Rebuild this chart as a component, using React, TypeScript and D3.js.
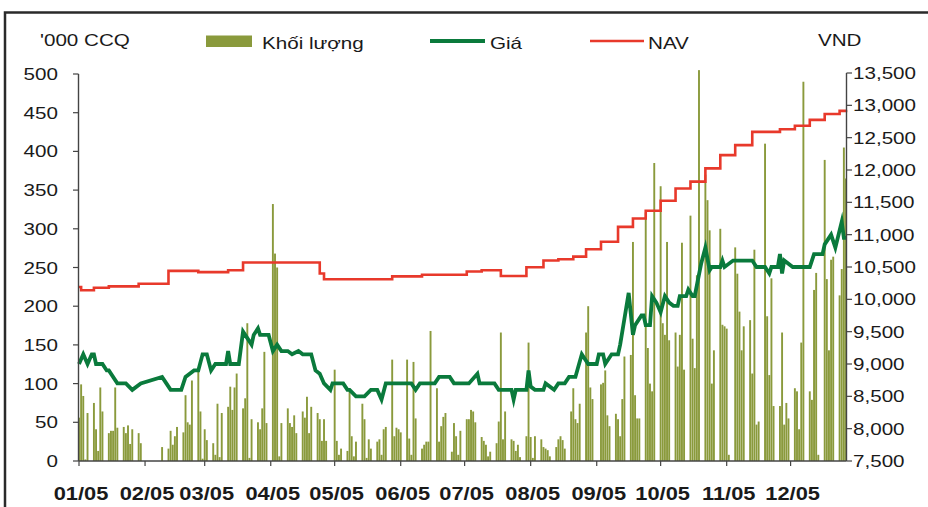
import React from "react";
import * as d3 from "d3";

// month tick labels (axis starts on the first trading day, 3 Jan 2005)
const monthLabels = ["01/05", "02/05", "03/05", "04/05", "05/05", "06/05", "07/05", "08/05", "09/05", "10/05", "11/05", "12/05"];
const leftTicks = [0, 50, 100, 150, 200, 250, 300, 350, 400, 450, 500];
const rightTicks = [7500, 8000, 8500, 9000, 9500, 10000, 10500, 11000, 11500, 12000, 12500, 13000, 13500];

// days the market was closed (Tet, 30/4-1/5, 2/9)
const holidays = ["2005-02-02", "2005-02-03", "2005-02-04", "2005-02-07", "2005-02-08", "2005-02-09", "2005-02-10", "2005-05-02", "2005-09-02"];

// Khối lượng ('000 CCQ), one value per trading day, by month
const volJan = [56, 99, 84, 2, 62, 75, 41, 13, 95, 64, 36, 39, 39, 95, 43, 44, 36, 46, 22, 41, 36];
const volFeb = [23, 18, 16, 39, 21, 32, 44, 37, 85, 50, 47, 104, 117];
const volMar = [64, 3, 41, 27, 23, 8, 74, 5, 62, 70, 96, 66, 95, 113, 68, 81, 178, 4, 54, 50, 41, 68, 141];
const volApr = [49, 332, 268, 250, 6, 49, 68, 49, 44, 59, 36, 64, 56, 83, 36, 70, 62, 54, 26, 54, 26];
const volMay = [118, 26, 8, 16, 13, 91, 32, 6, 25, 74, 54, 4, 28, 16, 25, 28, 8, 41, 44, 131, 32];
const volJun = [43, 41, 37, 131, 29, 8, 128, 55, 16, 21, 25, 25, 168, 94, 25, 45, 57, 62, 12, 49, 32, 8];
const volJul = [39, 54, 54, 66, 64, 50, 31, 26, 21, 6, 12, 23, 51, 166, 28, 64, 28, 26, 13, 21, 5];
const volAug = [32, 153, 31, 4, 32, 28, 18, 16, 14, 6, 18, 28, 32, 27, 16, 64, 94, 54, 49, 74, 166, 200, 95];
const volSep = [80, 99, 101, 117, 59, 45, 61, 54, 32, 80, 135, 137, 283, 85, 55, 55, 321, 146, 100, 90, 385];
const volOct = [355, 178, 163, 283, 156, 166, 122, 163, 282, 118, 317, 158, 120, 240, 505, 370, 337, 298, 100, 143, 300];
const volNov = [176, 174, 171, 8, 276, 242, 193, 143, 174, 182, 113, 273, 47, 51, 410, 187, 111, 236, 71, 71, 166, 47];
const volDec = [75, 55, 94, 90, 41, 153, 490, 90, 79, 221, 243, 8, 389, 235, 143, 260, 264, 214, 248, 405, 365];

// Giá (VND) - turning points of the price line
const priceDates = [
  "01-03", "01-05", "01-07", "01-09", "01-10", "01-11", "01-14", "01-16", "01-17", "01-21", "01-25", "01-28",
  "02-01", "02-11", "02-13", "02-15", "02-20", "02-22", "02-26", "02-28",
  "03-02", "03-04", "03-06", "03-08", "03-13", "03-14", "03-15", "03-19", "03-21", "03-23", "03-25", "03-26", "03-28", "03-29",
  "04-02", "04-04", "04-06", "04-08", "04-11", "04-13", "04-16", "04-18", "04-22", "04-24", "04-26", "04-28",
  "05-01", "05-02", "05-07", "05-09", "05-10", "05-13", "05-17", "05-20", "05-23", "05-25", "05-27",
  "06-08", "06-10", "06-12", "06-19", "06-21", "06-26", "06-28",
  "07-05", "07-09", "07-10", "07-17", "07-19", "07-25", "07-26", "07-27",
  "08-01", "08-02", "08-03", "08-05", "08-09", "08-10", "08-14", "08-16", "08-19", "08-21", "08-24", "08-27", "08-30",
  "09-03", "09-04", "09-06", "09-07", "09-10", "09-13", "09-14", "09-16", "09-18", "09-20", "09-21", "09-24", "09-25", "09-26", "09-28", "09-29",
  "10-01", "10-03", "10-05", "10-07", "10-09", "10-11", "10-12", "10-15", "10-16", "10-18", "10-19", "10-22", "10-24", "10-26", "10-27", "10-31",
  "11-01", "11-02", "11-06", "11-15", "11-17", "11-21", "11-23", "11-24", "11-27", "11-28", "11-29", "11-30",
  "12-04", "12-12", "12-14", "12-18", "12-19", "12-22", "12-24", "12-27", "12-28", "12-29",
];
const priceValues = [
  9000, 9150, 9000, 9150, 9150, 9000, 9000, 8900, 8900, 8700, 8700, 8600,
  8700, 8800, 8700, 8600, 8600, 8800, 8900, 8900,
  9150, 9150, 8900, 9000, 9000, 9200, 9000, 9000, 9500, 9400, 9300, 9450, 9550, 9450,
  9450, 9200, 9300, 9200, 9200, 9150, 9200, 9150, 9150, 8900, 8850, 8700,
  8600, 8700, 8700, 8600, 8600, 8500, 8500, 8600, 8600, 8450, 8700,
  8700, 8600, 8700, 8700, 8800, 8800, 8700,
  8700, 8850, 8700, 8700, 8600, 8600, 8450, 8600,
  8600, 8900, 8650, 8600, 8600, 8700, 8600, 8700, 8700, 8800, 8800, 9150, 9000,
  9000, 9150, 9150, 9000, 9150, 9150, 9300, 9700, 10100, 9450, 9600, 9750, 9750, 9600, 9600, 10050,
  9950, 9800, 10050, 9950, 9900, 9900, 10050, 10050, 10150, 10050, 10050, 10550, 10800, 10450, 10500, 10500,
  10600, 10500, 10600, 10600, 10500, 10500, 10400, 10500, 10500, 10700, 10400, 10600,
  10500, 10500, 10700, 10700, 10850, 11000, 10800, 11200, 10950, 10950,
];

// NAV (VND) - weekly values
const navDates = [
  "01-03", "01-04", "01-10", "01-17", "01-31", "02-14", "02-28", "03-14", "03-21", "04-26", "04-28",
  "05-30", "06-13", "07-04", "07-11", "07-20", "08-01", "08-09", "08-16", "08-23", "08-29",
  "09-05", "09-13", "09-20", "09-26", "10-03", "10-10", "10-17", "10-24", "10-31",
  "11-07", "11-15", "11-28", "12-05", "12-12", "12-19", "12-26", "12-29",
];
const navValues = [
  10190, 10140, 10180, 10200, 10240, 10440, 10420, 10450, 10570, 10400, 10310,
  10355, 10380, 10430, 10450, 10360, 10495, 10600, 10620, 10660, 10775,
  10890, 11120, 11250, 11370, 11525, 11715, 11820, 12025, 12230,
  12385, 12590, 12630, 12685, 12775, 12865, 12915, 12930,
];

const W = 928;
const H = 507;
const FONT = "'Liberation Sans', Arial, Helvetica, sans-serif";
const STRETCH = 1.25;
const OLIVE = "#8a9a3c";
const GREEN = "#0a7a3c";
const RED = "#e8392b";
const INK = "#1a1a1a";

const parseDay = d3.timeParse("%Y-%m-%d");
const md = (s: string) => parseDay("2005-" + s) as Date;

// every weekday of 2005 that the exchange was open
function tradingDays() {
  const closed = new Set(holidays);
  const fmt = d3.timeFormat("%Y-%m-%d");
  return d3
    .timeDay.range(new Date(2005, 0, 3), new Date(2005, 11, 30))
    .filter((d) => d.getDay() !== 0 && d.getDay() !== 6 && !closed.has(fmt(d)));
}

function Label({ x, y, anchor = "start", bold = false, size = 16.5, children }: any) {
  return (
    <g transform={`translate(${x},${y}) scale(${STRETCH},1)`}>
      <text
        textAnchor={anchor}
        fontFamily={FONT}
        fontSize={size}
        fontWeight={bold ? "bold" : "normal"}
        fill={INK}
      >
        {children}
      </text>
    </g>
  );
}

export default function App() {
  const x = d3.scaleTime().domain([new Date(2005, 0, 3), new Date(2005, 11, 29)]).range([79, 846]);
  const yL = d3.scaleLinear().domain([0, 500]).range([461, 74]);
  const yR = d3.scaleLinear().domain([7500, 13500]).range([461, 73]);

  const days = tradingDays();
  const volumes = [
    ...volJan, ...volFeb, ...volMar, ...volApr, ...volMay, ...volJun,
    ...volJul, ...volAug, ...volSep, ...volOct, ...volNov, ...volDec,
  ];
  const bars = days.map((d, i) => ({ date: d, v: volumes[i] ?? 0 }));

  const price = priceDates.map((d, i) => ({ date: md(d), v: priceValues[i] }));
  const nav = navDates.map((d, i) => ({ date: md(d), v: navValues[i] }));

  const priceLine = d3
    .line<{ date: Date; v: number }>()
    .x((d) => x(d.date))
    .y((d) => yR(d.v));
  const navLine = d3
    .line<{ date: Date; v: number }>()
    .x((d) => x(d.date))
    .y((d) => yR(d.v))
    .curve(d3.curveStepAfter);

  const monthTicks = monthLabels.map((lab, i) => ({ lab, date: new Date(2005, i, 3) }));
  const barW = 1.9;

  return (
    <svg
      width={W}
      height={H}
      viewBox={`0 0 ${W} ${H}`}
      style={{ position: "absolute", left: 0, top: 0, background: "#fff" }}
    >
      <rect x={0} y={0} width={W} height={H} fill="#fff" />
      {/* outer frame, cut by the picture edge */}
      <rect x={5} y={12.5} width={W + 20} height={H + 20} fill="none" stroke="#2a2a2a" strokeWidth={2.5} />

      {/* volume bars */}
      <g fill={OLIVE}>
        {bars.map((b, i) => (
          <rect key={i} x={x(b.date) - barW / 2} y={yL(b.v)} width={barW} height={yL(0) - yL(b.v)} />
        ))}
      </g>

      {/* NAV */}
      <path d={navLine(nav) as string} fill="none" stroke={RED} strokeWidth={2.6} />
      {/* price */}
      <path d={priceLine(price) as string} fill="none" stroke={GREEN} strokeWidth={3.8} strokeLinejoin="miter" strokeMiterlimit={6} />

      {/* left axis */}
      <line x1={78.5} x2={78.5} y1={yL(500)} y2={yL(0)} stroke="#444" strokeWidth={1.4} />
      {leftTicks.map((t) => (
        <g key={t}>
          <line x1={73} x2={78.5} y1={yL(t)} y2={yL(t)} stroke="#444" strokeWidth={1.2} />
          <Label x={58} y={yL(t) + 6} anchor="end">
            {t}
          </Label>
        </g>
      ))}

      {/* right axis */}
      <line x1={846.5} x2={846.5} y1={yR(13500)} y2={yR(7500)} stroke="#444" strokeWidth={1.4} />
      {rightTicks.map((t) => (
        <g key={t}>
          <line x1={846.5} x2={852} y1={yR(t)} y2={yR(t)} stroke="#444" strokeWidth={1.2} />
          <Label x={853} y={yR(t) + 6}>
            {d3.format(",")(t)}
          </Label>
        </g>
      ))}

      {/* bottom axis */}
      <line x1={78.5} x2={846.5} y1={461} y2={461} stroke="#444" strokeWidth={1.4} />
      {monthTicks.map((m) => (
        <g key={m.lab}>
          <line x1={x(m.date)} x2={x(m.date)} y1={461} y2={466} stroke="#444" strokeWidth={1.2} />
          <Label x={x(m.date) + 2} y={500} anchor="middle" bold size={17.5}>
            {m.lab}
          </Label>
        </g>
      ))}

      {/* axis titles */}
      <Label x={40} y={46}>'000 CCQ</Label>
      <Label x={818} y={46}>VND</Label>

      {/* legend */}
      <rect x={206} y={35.5} width={46} height={11.5} fill={OLIVE} />
      <Label x={262} y={49}>Khối lượng</Label>
      <line x1={430} x2={485} y1={41} y2={41} stroke={GREEN} strokeWidth={3.8} />
      <Label x={490} y={49}>Giá</Label>
      <line x1={590} x2={644} y1={41} y2={41} stroke={RED} strokeWidth={2.6} />
      <Label x={648} y={49}>NAV</Label>
    </svg>
  );
}
